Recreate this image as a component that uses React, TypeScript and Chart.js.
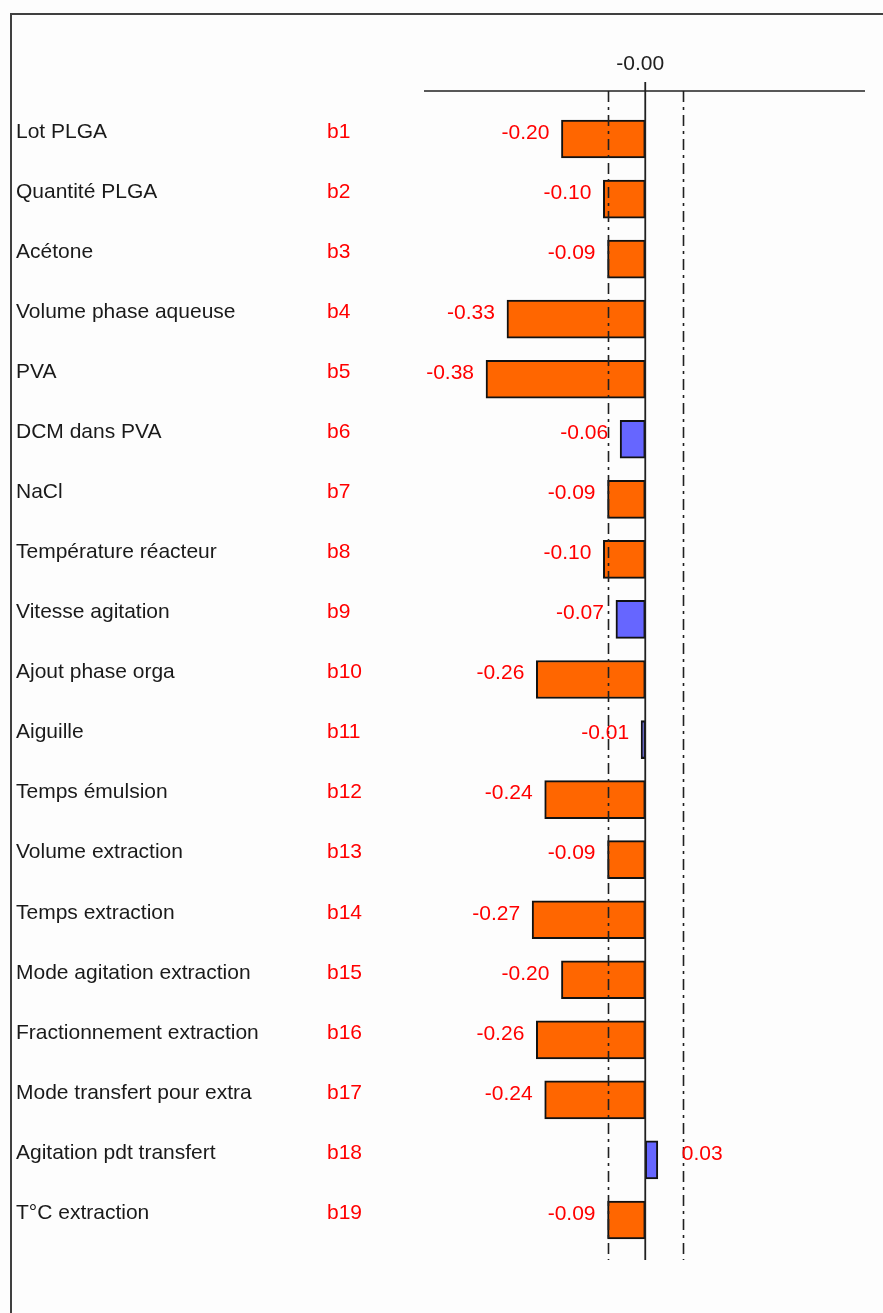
import React, { useEffect, useRef } from "react";
import { Chart, registerables } from "chart.js";

Chart.register(...registerables);

const names: string[] = [
  "Lot PLGA",
  "Quantité PLGA",
  "Acétone",
  "Volume phase aqueuse",
  "PVA",
  "DCM dans PVA",
  "NaCl",
  "Température réacteur",
  "Vitesse agitation",
  "Ajout phase orga",
  "Aiguille",
  "Temps émulsion",
  "Volume extraction",
  "Temps extraction",
  "Mode agitation extraction",
  "Fractionnement extraction",
  "Mode transfert pour extra",
  "Agitation pdt transfert",
  "T°C extraction",
];

const codes: string[] = [
  "b1", "b2", "b3", "b4", "b5", "b6", "b7", "b8", "b9", "b10",
  "b11", "b12", "b13", "b14", "b15", "b16", "b17", "b18", "b19",
];

const values: number[] = [
  -0.2, -0.1, -0.09, -0.33, -0.38, -0.06, -0.09, -0.1, -0.07, -0.26,
  -0.01, -0.24, -0.09, -0.27, -0.2, -0.26, -0.24, 0.03, -0.09,
];

const threshold = 0.09;
const xMin = -0.528;
const xMax = 0.522;
const topTickLabel = "-0.00";

const FONT = "21px 'Liberation Sans', Arial, sans-serif";

const overlayPlugin = {
  id: "overlay",
  beforeDraw(chart: any) {
    const ctx = chart.ctx;
    ctx.save();
    ctx.fillStyle = "#FDFDFD";
    ctx.fillRect(0, 0, chart.width, chart.height);
    // frame
    ctx.strokeStyle = "#404040";
    ctx.lineWidth = 2;
    ctx.beginPath();
    ctx.moveTo(11, chart.height);
    ctx.lineTo(11, 14);
    ctx.lineTo(chart.width, 14);
    ctx.stroke();
    ctx.restore();
  },
  afterDatasetsDraw(chart: any) {
    const ctx = chart.ctx;
    const xs = chart.scales.x;
    const ys = chart.scales.y;
    const area = chart.chartArea;
    const axisY = area.top - 18;
    const bottomY = area.bottom + 10;
    const zeroX = xs.getPixelForValue(0);
    ctx.save();
    // axis line
    ctx.strokeStyle = "#202020";
    ctx.lineWidth = 1.5;
    ctx.setLineDash([]);
    ctx.beginPath();
    ctx.moveTo(area.left, axisY);
    ctx.lineTo(area.right + 1, axisY);
    ctx.stroke();
    // zero line
    ctx.lineWidth = 1.8;
    ctx.beginPath();
    ctx.moveTo(zeroX, axisY - 9);
    ctx.lineTo(zeroX, bottomY);
    ctx.stroke();
    // dashed threshold lines
    ctx.lineWidth = 1.6;
    ctx.setLineDash([11, 5, 3, 5]);
    [-threshold, threshold].forEach((t) => {
      const x = Math.round(xs.getPixelForValue(t)) + 0.5;
      ctx.beginPath();
      ctx.moveTo(x, axisY);
      ctx.lineTo(x, bottomY);
      ctx.stroke();
    });
    ctx.setLineDash([]);
    // top tick label
    ctx.font = FONT;
    ctx.fillStyle = "#202020";
    ctx.textAlign = "center";
    ctx.textBaseline = "middle";
    ctx.fillText(topTickLabel, zeroX - 5, 64);
    // row labels
    values.forEach((v, i) => {
      const y = ys.getPixelForValue(i);
      const ty = y - 7;
      ctx.textBaseline = "middle";
      ctx.textAlign = "left";
      ctx.fillStyle = "#1a1a1a";
      ctx.fillText(names[i], 16, ty);
      ctx.fillStyle = "#FF0000";
      ctx.fillText(codes[i], 327, ty);
      const vx = xs.getPixelForValue(v);
      const label = v.toFixed(2);
      if (v < 0) {
        ctx.textAlign = "right";
        ctx.fillText(label, vx - 12, ty + 1);
      } else {
        ctx.textAlign = "left";
        ctx.fillText(label, vx + 24, ty + 1);
      }
    });
    ctx.restore();
  },
};

export default function App() {
  const ref = useRef<HTMLCanvasElement | null>(null);
  useEffect(() => {
    if (!ref.current) return;
    const chart = new Chart(ref.current, {
      type: "bar",
      data: {
        labels: codes,
        datasets: [
          {
            data: values,
            backgroundColor: values.map((v) =>
              Math.abs(v) >= threshold ? "#FF6600" : "#6666FF"
            ),
            borderColor: "#111111",
            borderWidth: 2,
            borderSkipped: false,
            barThickness: 38,
          },
        ],
      },
      options: {
        indexAxis: "y",
        responsive: false,
        animation: false,
        layout: { padding: { left: 424, right: 19, top: 109, bottom: 63 } },
        plugins: {
          legend: { display: false },
          tooltip: { enabled: false },
        },
        scales: {
          x: { type: "linear", min: xMin, max: xMax, display: false },
          y: { type: "category", display: false, offset: true },
        },
      },
      plugins: [overlayPlugin],
    });
    return () => chart.destroy();
  }, []);
  return (
    <div style={{ position: "absolute", left: 0, top: 0, width: 883, height: 1313 }}>
      <canvas ref={ref} width={883} height={1313} style={{ display: "block" }} />
    </div>
  );
}
